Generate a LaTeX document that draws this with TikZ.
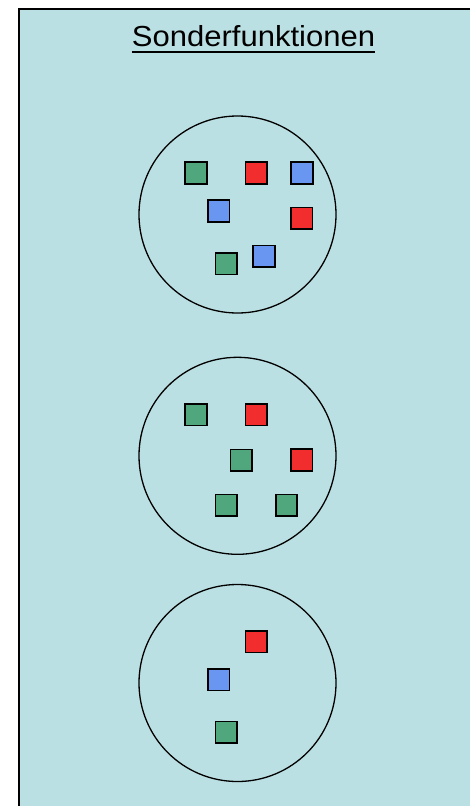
\documentclass[tikz,border=0pt]{standalone}
\usepackage{fontspec}
\setmainfont{Liberation Sans}
\definecolor{bg}{RGB}{187,224,227}
\definecolor{sqgreen}{RGB}{80,166,125}
\definecolor{sqred}{RGB}{242,45,45}
\definecolor{sqblue}{RGB}{105,150,240}
\begin{document}
\begin{tikzpicture}[x=1pt,y=-1pt,
  sq/.style={draw=black,line width=1.6pt,minimum size=21.5pt,inner sep=0pt,rectangle},
  gsq/.style={sq,fill=sqgreen},
  rsq/.style={sq,fill=sqred},
  bsq/.style={sq,fill=sqblue},
  ring/.style={circle,draw=black,line width=1.3pt,minimum size=197pt,inner sep=0pt}]
\useasboundingbox (0,0) rectangle (470,806);
\clip (0,0) rectangle (470,806);
\node[draw=black,line width=2pt,fill=bg,anchor=north west,minimum width=480pt,minimum height=830pt,inner sep=0pt] (frame) at (18,7.7) {};
\node[font=\fontsize{29}{34}\selectfont,inner sep=0pt,anchor=base] (title) at (253.5,46.5) {\scalebox{1.07}[1]{Sonderfunktionen}};
\draw[line width=1.8pt] ([yshift=-5.5pt]title.base west) -- ([yshift=-5.5pt]title.base east);
% circle 1
\node[ring] (c1) at (237.5,214.5) {};
\node[gsq] (a1) at (196,173) {};
\node[rsq] (a2) at (256.3,173) {};
\node[bsq] (a3) at (302,173) {};
\node[bsq] (a4) at (218.7,211) {};
\node[rsq] (a5) at (301.7,218.3) {};
\node[gsq] (a6) at (226.3,263.7) {};
\node[bsq] (a7) at (264,256.3) {};
% circle 2
\node[ring] (c2) at (237.5,455.8) {};
\node[gsq] (b1) at (196,414.8) {};
\node[rsq] (b2) at (256.3,414.7) {};
\node[gsq] (b3) at (241.3,460.3) {};
\node[rsq] (b4) at (301.7,460) {};
\node[gsq] (b5) at (226.3,505.3) {};
\node[gsq] (b6) at (286.5,505.3) {};
% circle 3
\node[ring] (c3) at (237.5,683) {};
\node[rsq] (d1) at (256.3,641.7) {};
\node[bsq] (d2) at (218.7,679.7) {};
\node[gsq] (d3) at (226.3,732.3) {};
\end{tikzpicture}
\end{document}
